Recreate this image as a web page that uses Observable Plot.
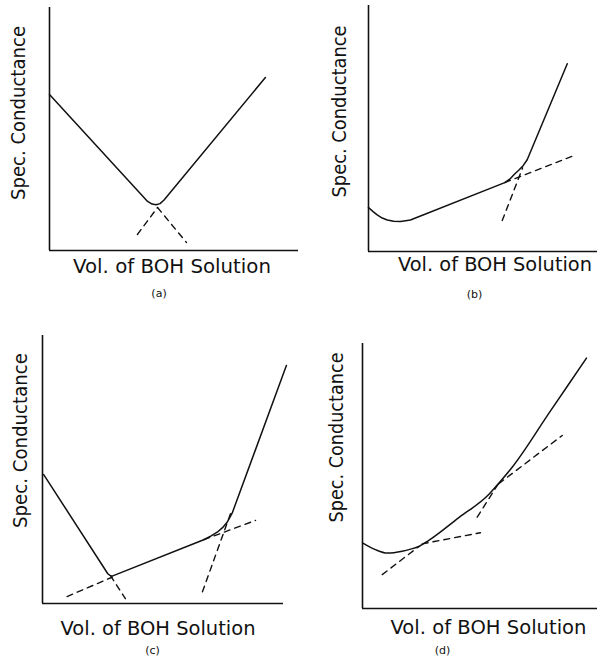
<!DOCTYPE html>
<html>
<head>
<meta charset="utf-8">
<script src="https://cdn.jsdelivr.net/npm/d3@7"></script>
<script src="https://cdn.jsdelivr.net/npm/@observablehq/plot@0.6"></script>
<style>
  html, body { margin: 0; padding: 0; background: #fff; }
  #root { position: relative; width: 597px; height: 663px; background: #fff; overflow: hidden; }
  #root > svg { position: absolute; overflow: visible; }
</style>
</head>
<body>
<div id="root"></div>
<script>
// ---------- Data (volume of BOH solution vs specific conductance, arbitrary units 0–100) ----------
const xLabel = "Vol. of BOH Solution";
const yLabel = "Spec. Conductance";
const captions = ["(a)", "(b)", "(c)", "(d)"];

// (a) strong acid + strong base
const aVol  = [0, 39.4, 41.2, 42.8, 44.4, 46.0, 86.7];
const aCond = [64.2, 20.2, 19.1, 18.8, 19.3, 20.8, 71.2];
const aDashVol1 = [35.3, 43.4], aDashCond1 = [6.6, 17.7];
const aDashVol2 = [43.4, 55.0], aDashCond2 = [17.7, 3.3];

// (b) weak acid + strong base
const bVol  = [0, 2.0, 3.8, 6.0, 8.2, 11.0, 14.0, 18.3, 59.5, 61.8, 63.6, 65.6, 67.6, 69.3, 86.8];
const bCond = [17.9, 16.2, 14.9, 13.6, 12.8, 12.3, 12.2, 12.8, 28.0, 29.5, 31.3, 33.0, 35.0, 37.3, 76.3];
const bDashVol1 = [59.5, 89.7], bDashCond1 = [28.0, 39.0];
const bDashVol2 = [58.4, 67.3], bDashCond2 = [12.6, 34.0];

// (c) mixture of strong + weak acid
const cVol  = [0.5, 27.1, 28.0, 28.9, 66.9, 69.8, 72.5, 74.7, 76.6, 78.7, 101.2];
const cCond = [48.1, 11.1, 10.5, 10.2, 23.8, 25.1, 26.6, 28.3, 30.3, 33.7, 88.8];
const cDashVol1 = [10.2, 28.9], cDashCond1 = [2.6, 9.8];
const cDashVol2 = [28.2, 34.4], cDashCond2 = [10.4, 1.8];
const cDashVol3 = [66.9, 88.4], cDashCond3 = [23.8, 31.0];
const cDashVol4 = [78.0, 66.3], cDashCond4 = [33.5, 4.2];

// (d) very weak acid + strong base
const dVol  = [0, 5.5, 10.5, 16.9, 20.5, 24.0, 28.2, 41.0, 53.7, 58.0, 63.7, 79.5, 95.3];
const dCond = [24.8, 22.2, 20.9, 21.6, 22.4, 23.4, 25.7, 34.3, 43.0, 47.3, 53.3, 73.9, 94.5];
const dDashVol1 = [8.4, 24.0], dDashCond1 = [12.8, 23.4];   // middle-branch tangent, lower part
const dDashVol2 = [25.4, 50.2], dDashCond2 = [24.4, 28.6];  // first-branch tangent
const dDashVol3 = [48.8, 58.0], dDashCond3 = [34.5, 47.3];  // last-branch tangent
const dDashVol4 = [58.0, 85.0], dDashCond4 = [47.1, 65.3];  // middle-branch tangent, upper part

// ---------- helpers ----------
const toRows = (xs, ys) => xs.map((x, i) => ({x, y: ys[i]}));
const FONT = "DejaVu Sans, Liberation Sans, sans-serif";
const INK = "#111";

function panel(cfg) {
  const marks = [
    Plot.ruleX([0], {stroke: INK, strokeWidth: 1.6}),
    Plot.ruleY([0], {stroke: INK, strokeWidth: 1.6}),
    Plot.line(toRows(cfg.vol, cfg.cond), {x: "x", y: "y", stroke: INK, strokeWidth: 1.5,
      curve: cfg.curve, strokeLinejoin: "round"}),
    ...cfg.dashes.map(([xs, ys]) =>
      Plot.line(toRows(xs, ys), {x: "x", y: "y", stroke: INK, strokeWidth: 1.4, strokeDasharray: "6,5"})),
    Plot.text([xLabel], {text: d => d, frameAnchor: "bottom", textAnchor: "start",
      dx: cfg.xl[0] - cfg.xlen / 2, dy: cfg.xl[1],
      fontSize: 20, fill: INK, className: "xlab"}),
    Plot.text([yLabel], {text: d => d, frameAnchor: "left", rotate: -90, textAnchor: "start",
      dx: cfg.yl[0], dy: cfg.yl[1] + cfg.ylen / 2,
      fontSize: 20, fill: INK, className: "ylab"}),
    Plot.text([cfg.caption], {text: d => d, frameAnchor: "bottom", dx: cfg.cap[0], dy: cfg.cap[1],
      fontSize: 11, fill: INK})
  ];
  const svg = Plot.plot({
    width: cfg.w, height: cfg.h,
    marginLeft: cfg.m[0], marginTop: cfg.m[1], marginRight: cfg.m[2], marginBottom: cfg.m[3],
    x: {domain: [0, 100], axis: null},
    y: {domain: [0, 100], axis: null},
    style: {fontFamily: FONT, background: "transparent", overflow: "visible"},
    marks
  });
  svg.style.left = cfg.left + "px";
  svg.style.top = cfg.top + "px";
  svg.querySelectorAll(".xlab text").forEach(t => {
    t.setAttribute("textLength", cfg.xlen);
    t.setAttribute("lengthAdjust", "spacingAndGlyphs");
  });
  svg.querySelectorAll(".ylab text").forEach(t => {
    t.setAttribute("textLength", cfg.ylen);
    t.setAttribute("lengthAdjust", "spacingAndGlyphs");
  });
  return svg;
}

const root = document.getElementById("root");
const panels = [
  {left: 0, top: 0, w: 300, h: 315, m: [49, 7, 2, 65], caption: captions[0], curve: "linear",
   vol: aVol, cond: aCond, dashes: [[aDashVol1, aDashCond1], [aDashVol2, aDashCond2]],
   xl: [-2, 22], yl: [-31, -16], cap: [-15, 46], xlen: 198, ylen: 174},
  {left: 300, top: 0, w: 297, h: 315, m: [68, 5, 0, 64], caption: captions[1], curve: "linear",
   vol: bVol, cond: bCond, dashes: [[bDashVol1, bDashCond1], [bDashVol2, bDashCond2]],
   xl: [12, 19], yl: [-28.5, -17], cap: [-8.5, 46], xlen: 194, ylen: 172},
  {left: 0, top: 320, w: 300, h: 343, m: [42, 15, 17, 60], caption: captions[2], curve: "linear",
   vol: cVol, cond: cCond,
   dashes: [[cDashVol1, cDashCond1], [cDashVol2, cDashCond2], [cDashVol3, cDashCond3], [cDashVol4, cDashCond4]],
   xl: [-5, 31], yl: [-22, -29], cap: [-10.5, 50], xlen: 195, ylen: 175},
  {left: 300, top: 320, w: 297, h: 343, m: [62, 23, 0, 55], caption: captions[3], curve: "monotone-x",
   vol: dVol, cond: dCond,
   dashes: [[dDashVol1, dDashCond1], [dDashVol2, dDashCond2], [dDashVol3, dDashCond3], [dDashVol4, dDashCond4]],
   xl: [8.5, 25], yl: [-25.5, -38.5], cap: [-37.5, 45], xlen: 196, ylen: 170}
];
panels.forEach(cfg => root.appendChild(panel(cfg)));
</script>
</body>
</html>
